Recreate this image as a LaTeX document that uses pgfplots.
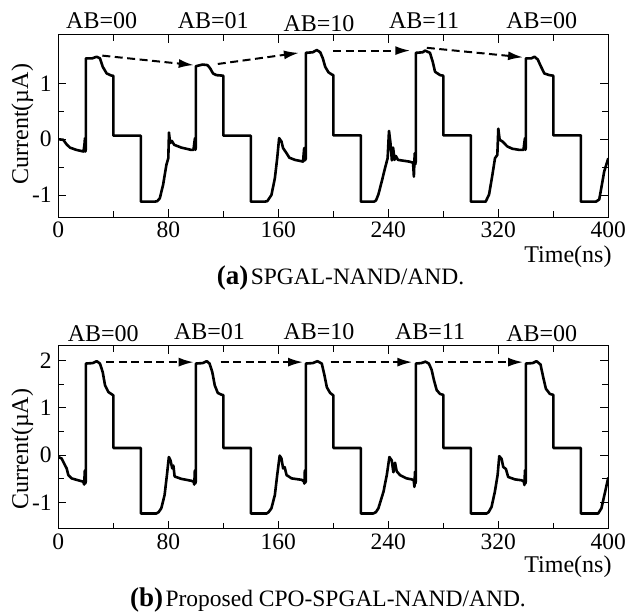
\documentclass[border=0pt]{standalone}
\usepackage{fontspec}
\setmainfont{Liberation Serif}
\usepackage{pgfplots}
\pgfplotsset{compat=1.18}
\usetikzlibrary{arrows.meta}

\newcommand{\fs}[1]{\fontsize{#1}{#1}\selectfont}

\pgfplotsset{
  panel/.style={
    scale only axis, width=550pt,
    xmin=0, xmax=400,
    xtick={0,80,...,400}, minor x tick num=1, minor y tick num=1,
    tick align=inside, tick pos=both,
    major tick length=8pt, minor tick length=6pt,
    axis line style={line width=1pt},
    every tick/.style={black, line width=0.9pt},
    tick label style={font=\fs{23.5}, /pgf/number format/assume math mode=true},
    xticklabel style={inner sep=0pt, anchor=north, yshift=-4.5pt},
    yticklabel style={inner sep=0pt, anchor=east, xshift=-6.5pt},
    clip mode=individual,
  },
  wave/.style={black, line width=2.6pt, line join=round, no marks},
  arr/.style={black, line width=2pt, dash pattern=on 8pt off 4.5pt,
    -{Latex[length=15pt,width=9pt]}, no marks},
}
\tikzset{
  ab/.style={anchor=base, inner sep=0pt, font=\fs{24}},
  lbl/.style={inner sep=0pt, font=\fs{24}},
}

\begin{document}
\begin{tikzpicture}
\path[use as bounding box] (0,0) rectangle (626pt,613pt);

% (a) SPGAL
\begin{axis}[panel, at={(58.3pt,395.7pt)}, anchor=south west,
  height=182.3pt, ymin=-1.4, ymax=1.87, ytick={-1,0,1}]
\addplot[wave] coordinates {
(0,0) (3.6,-0.01) (6,-0.09) (8.5,-0.15) (13,-0.19) (18.3,-0.22) (19,-0.1)
(19.4,0.02) (19.7,-0.22) (20,-0.18) (20.05,1.45) (24.5,1.45) (28,1.48)
(30.3,1.45) (32.3,1.30) (35.2,1.18) (38.8,1.14) (40,1.14) (40.05,0.065)
(60,0.065) (60.05,-1.12) (70,-1.12) (72,-1.11) (73.8,-1.06) (76.2,-0.82)
(78.6,-0.46) (80,-0.34) (80.5,0.12) (81.3,-0.07) (82.6,-0.03) (84.3,-0.10)
(89.5,-0.15) (96.5,-0.19) (98.3,-0.19) (99,-0.05) (99.4,0.02) (99.7,-0.19)
(100,-0.15) (100.05,1.31) (105,1.34) (108.5,1.33) (110.5,1.27) (112.5,1.18)
(115,1.15) (120,1.14) (120.05,0.065) (140,0.065) (140.05,-1.12) (150,-1.12)
(152,-1.11) (155,-1.0) (157.5,-0.70) (159.2,-0.34) (160.6,0.02) (162.3,-0.04)
(163.5,-0.16) (166,-0.25) (168,-0.33) (172,-0.37) (178,-0.40) (178.8,-0.16)
(179.3,-0.38) (180,-0.35) (180.05,1.55) (185,1.56) (188,1.60) (190.5,1.56)
(192.4,1.45) (194.1,1.30) (196.5,1.20) (199,1.16) (200,1.15) (200.05,0.07)
(220,0.07) (220.05,-1.12) (229.5,-1.12) (231,-1.10) (232.8,-0.99)
(235.2,-0.76) (237.6,-0.52) (239.5,-0.34) (240.5,0.15) (241.5,-0.05)
(242.6,-0.38) (243.5,-0.15) (244.5,-0.37) (245.5,-0.30) (247,-0.37)
(255,-0.40) (258,-0.42) (258.6,-0.67) (259.2,-0.25) (259.6,-0.45) (260,-0.40)
(260.05,1.55) (265,1.56) (266.7,1.59) (270.3,1.55) (272.3,1.39) (274,1.21)
(277.7,1.15) (280,1.14) (280.05,0.07) (300,0.07) (300.05,-1.12) (310.8,-1.12)
(313.3,-0.99) (315.7,-0.64) (317.6,-0.34) (319.3,-0.28) (320,0.19) (321,-0.01)
(323,-0.04) (326.6,-0.13) (330.2,-0.17) (335,-0.19) (338.3,-0.19) (339,-0.05)
(339.4,0.02) (339.7,-0.19) (340,-0.15) (340.05,1.45) (344,1.45) (346.3,1.48)
(348.7,1.43) (351.1,1.30) (353.5,1.18) (357.2,1.15) (360,1.14) (360.05,0.07)
(380,0.07) (380.05,-1.12) (391,-1.12) (393.4,-1.08) (395.3,-0.82) (397,-0.58)
(400,-0.34)
};
\addplot[arr] coordinates {(32,1.50) (98.5,1.33)};
\addplot[arr] coordinates {(116,1.35) (175,1.55)};
\addplot[arr] coordinates {(200,1.59) (256,1.59)};
\addplot[arr] coordinates {(268,1.64) (338,1.47)};
\node[ab, yshift=6.6pt] at (axis cs:31.5,1.87) {AB=00};
\node[ab, yshift=6.6pt] at (axis cs:112.7,1.87) {AB=01};
\node[ab, yshift=3.3pt] at (axis cs:189.6,1.87) {AB=10};
\node[ab, yshift=6.6pt] at (axis cs:266,1.87) {AB=11};
\node[ab, yshift=6.6pt] at (axis cs:351.6,1.87) {AB=00};
\node[lbl, anchor=base east, xshift=3.4pt, yshift=-45pt] at (rel axis cs:1,0) {Time(ns)};
\node[lbl, xshift=-36pt, yshift=2pt, rotate=90] at (rel axis cs:0,0.5) {Current(µA)};
\end{axis}

% (b) CPO-SPGAL
\begin{axis}[panel, at={(58.3pt,84.3pt)}, anchor=south west,
  height=182.7pt, ymin=-1.55, ymax=2.3, ytick={-1,0,1,2}]
\addplot[wave] coordinates {
(0,-0.04) (2.4,-0.07) (4.8,-0.21) (6.1,-0.28) (7.3,-0.42) (9.7,-0.49)
(13.3,-0.52) (18.2,-0.56) (18.8,-0.62) (19.3,-0.32) (19.6,-0.60) (20,-0.55)
(20.05,1.93) (25,1.94) (28,1.98) (30.3,1.93) (32.3,1.75) (34,1.47) (36.4,1.33)
(39.5,1.27) (40,1.27) (40.05,0.15) (60,0.15) (60.05,-1.23) (71.3,-1.23)
(73,-1.20) (74.9,-1.12) (77.3,-0.84) (79,-0.42) (80.4,-0.04) (81.5,-0.10)
(82.9,-0.28) (83.7,-0.22) (84.6,-0.45) (89.5,-0.50) (96.7,-0.54) (98.4,-0.56)
(98.9,-0.62) (99.3,-0.32) (99.6,-0.60) (100,-0.55) (100.05,1.93) (105,1.94)
(108,1.98) (110,1.93) (112,1.75) (113.8,1.47) (116,1.31) (119,1.27) (120,1.27)
(120.05,0.15) (140,0.15) (140.05,-1.23) (151.5,-1.23) (153,-1.20) (155,-1.12)
(157.5,-0.84) (159.2,-0.42) (161,-0.01) (162.3,-0.07) (163.5,-0.28)
(164.6,-0.25) (166,-0.42) (169.7,-0.49) (177,-0.52) (178.5,-0.55) (179,-0.60)
(179.3,-0.32) (179.6,-0.58) (180,-0.55) (180.05,1.93) (185,1.94) (188.5,1.98)
(191.6,1.93) (193.6,1.68) (195.3,1.43) (197.7,1.31) (199.6,1.27) (200,1.27)
(200.05,0.15) (220,0.15) (220.05,-1.23) (229,-1.23) (231,-1.20) (232.8,-1.12)
(236.5,-0.77) (238.9,-0.42) (240.8,-0.04) (242.5,-0.11) (243.7,-0.36)
(244.9,-0.16) (246.1,-0.34) (248.5,-0.42) (253.3,-0.49) (257,-0.51)
(258.5,-0.53) (259,-0.67) (259.4,-0.35) (259.7,-0.60) (260,-0.55)
(260.05,1.93) (264,1.94) (267,1.97) (269.5,1.93) (271.5,1.80) (273.2,1.58)
(275.2,1.37) (277.6,1.29) (280,1.27) (280.05,0.15) (300,0.15) (300.05,-1.23)
(311.5,-1.23) (313,-1.20) (315.1,-1.09) (317.5,-0.77) (319.5,-0.42)
(320.7,-0.02) (322.4,-0.08) (323.6,-0.25) (325.5,-0.29) (327.2,-0.46)
(332,-0.51) (336.9,-0.53) (338.5,-0.55) (339,-0.63) (339.4,-0.32) (339.7,-0.60)
(340,-0.55) (340.05,1.93) (345,1.94) (347.8,1.98) (350.7,1.91) (352.6,1.65)
(354.6,1.40) (357.5,1.29) (360,1.27) (360.05,0.15) (380,0.15) (380.05,-1.23)
(392.6,-1.23) (395,-1.12) (397.4,-0.81) (400,-0.47)
};
\addplot[arr] coordinates {(35,1.96) (98.5,1.96)};
\addplot[arr] coordinates {(118,1.96) (178,1.96)};
\addplot[arr] coordinates {(198,1.96) (257.5,1.96)};
\addplot[arr] coordinates {(274,1.96) (338,1.96)};
\node[ab, yshift=4pt] at (axis cs:32.7,2.3) {AB=00};
\node[ab, yshift=6pt] at (axis cs:110,2.3) {AB=01};
\node[ab, yshift=6pt] at (axis cs:189.6,2.3) {AB=10};
\node[ab, yshift=6pt] at (axis cs:270.4,2.3) {AB=11};
\node[ab, yshift=4pt] at (axis cs:351.6,2.3) {AB=00};
\node[lbl, anchor=base east, xshift=3.4pt, yshift=-44pt] at (rel axis cs:1,0) {Time(ns)};
\node[lbl, xshift=-36pt, yshift=-11.7pt, rotate=90] at (rel axis cs:0,0.5) {Current(µA)};
\end{axis}

\node[anchor=base, inner sep=0pt] at (340.5pt,328pt)
  {{\fs{27}\bfseries (a)} {\fs{23.5}SPGAL-NAND/AND.}};
\node[anchor=base, inner sep=0pt] at (328pt,7pt)
  {{\fs{27}\bfseries (b)} {\fs{23.5}Proposed CPO-SPGAL-NAND/AND.}};
\end{tikzpicture}
\end{document}
